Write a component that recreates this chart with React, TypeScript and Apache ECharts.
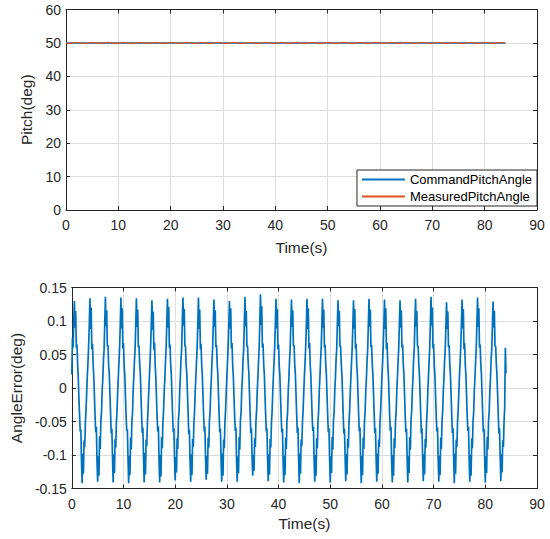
import React, { useEffect, useRef } from "react";
import * as echarts from "echarts";

// ---------- data ----------
const SERIES_NAMES = ["CommandPitchAngle", "MeasuredPitchAngle"];
const COMMAND_TIMES = [0, 84];
const COMMAND_VALUES = [50, 50];

const X_TICKS = [0, 10, 20, 30, 40, 50, 60, 70, 80, 90];
const PITCH_TICKS = [0, 10, 20, 30, 40, 50, 60];
const ERROR_TICKS = [-0.15, -0.1, -0.05, 0, 0.05, 0.1, 0.15];

const ERROR_T0 = 0;
const ERROR_DT = 0.125;
const ERROR_VALUES = [
  // t = 0 .. 1.875
  0.020, 0.075, 0.060, 0.100, 0.130, 0.090, 0.115, 0.060, 0.065, 0.035, 0.015, -0.015, -0.040, -0.065, -0.062, -0.110,
  // cycles, each starting at a trough (t = 2, 5, 8, ...)
  -0.142, -0.098, -0.128, -0.078, -0.088, -0.052, -0.033, -0.008, 0.018, 0.038, 0.062, 0.092, 0.134, 0.088, 0.120, 0.058, 0.066, 0.036, 0.018, -0.012, -0.042, -0.066, -0.058, -0.108,
  -0.140, -0.102, -0.131, -0.072, -0.091, -0.048, -0.036, -0.004, 0.014, 0.042, 0.058, 0.097, 0.136, 0.092, 0.116, 0.062, 0.064, 0.033, 0.021, -0.009, -0.038, -0.068, -0.061, -0.104,
  -0.141, -0.099, -0.127, -0.076, -0.089, -0.051, -0.034, -0.006, 0.016, 0.039, 0.061, 0.094, 0.135, 0.089, 0.119, 0.059, 0.067, 0.034, 0.019, -0.011, -0.041, -0.064, -0.062, -0.106,
  -0.142, -0.101, -0.130, -0.074, -0.092, -0.049, -0.037, -0.003, 0.017, 0.041, 0.059, 0.096, 0.134, 0.091, 0.117, 0.061, 0.063, 0.037, 0.022, -0.008, -0.039, -0.067, -0.059, -0.103,
  -0.141, -0.097, -0.129, -0.077, -0.087, -0.053, -0.032, -0.007, 0.015, 0.037, 0.063, 0.093, 0.131, 0.087, 0.114, 0.057, 0.068, 0.035, 0.017, -0.013, -0.043, -0.065, -0.057, -0.107,
  -0.141, -0.100, -0.132, -0.073, -0.090, -0.050, -0.035, -0.005, 0.014, 0.040, 0.060, 0.095, 0.133, 0.090, 0.121, 0.060, 0.065, 0.036, 0.020, -0.010, -0.040, -0.066, -0.060, -0.105,
  -0.138, -0.103, -0.126, -0.075, -0.091, -0.047, -0.036, -0.004, 0.016, 0.043, 0.057, 0.098, 0.135, 0.093, 0.118, 0.063, 0.062, 0.034, 0.021, -0.009, -0.037, -0.069, -0.062, -0.109,
  -0.140, -0.099, -0.130, -0.076, -0.088, -0.052, -0.034, -0.006, 0.017, 0.039, 0.061, 0.094, 0.135, 0.088, 0.117, 0.058, 0.066, 0.035, 0.019, -0.011, -0.041, -0.065, -0.058, -0.104,
  -0.137, -0.101, -0.128, -0.074, -0.089, -0.049, -0.035, -0.005, 0.015, 0.041, 0.060, 0.096, 0.132, 0.091, 0.116, 0.061, 0.064, 0.036, 0.020, -0.010, -0.039, -0.066, -0.061, -0.106,
  -0.140, -0.098, -0.131, -0.077, -0.090, -0.051, -0.033, -0.007, 0.018, 0.038, 0.062, 0.092, 0.130, 0.089, 0.119, 0.059, 0.067, 0.033, 0.018, -0.012, -0.042, -0.064, -0.059, -0.107,
  -0.140, -0.102, -0.127, -0.073, -0.092, -0.048, -0.037, -0.003, 0.014, 0.042, 0.058, 0.097, 0.136, 0.092, 0.115, 0.062, 0.063, 0.037, 0.022, -0.008, -0.038, -0.067, -0.060, -0.103,
  -0.131, -0.100, -0.124, -0.075, -0.088, -0.050, -0.034, -0.005, 0.016, 0.040, 0.060, 0.099, 0.140, 0.094, 0.122, 0.060, 0.066, 0.035, 0.020, -0.010, -0.040, -0.065, -0.060, -0.105,
  -0.139, -0.099, -0.129, -0.076, -0.089, -0.052, -0.035, -0.006, 0.017, 0.039, 0.061, 0.094, 0.133, 0.089, 0.118, 0.058, 0.065, 0.034, 0.019, -0.011, -0.041, -0.066, -0.061, -0.108,
  -0.141, -0.101, -0.130, -0.074, -0.091, -0.049, -0.036, -0.004, 0.015, 0.041, 0.059, 0.096, 0.132, 0.091, 0.116, 0.062, 0.064, 0.036, 0.021, -0.009, -0.039, -0.067, -0.059, -0.104,
  -0.142, -0.098, -0.128, -0.077, -0.087, -0.051, -0.033, -0.007, 0.018, 0.038, 0.062, 0.093, 0.133, 0.088, 0.119, 0.059, 0.067, 0.035, 0.018, -0.012, -0.042, -0.064, -0.058, -0.107,
  -0.140, -0.100, -0.131, -0.075, -0.090, -0.050, -0.035, -0.005, 0.016, 0.040, 0.060, 0.095, 0.133, 0.090, 0.117, 0.060, 0.065, 0.036, 0.020, -0.010, -0.040, -0.066, -0.060, -0.105,
  -0.141, -0.102, -0.127, -0.073, -0.092, -0.048, -0.036, -0.004, 0.014, 0.042, 0.058, 0.096, 0.131, 0.092, 0.115, 0.062, 0.063, 0.037, 0.021, -0.008, -0.038, -0.068, -0.061, -0.103,
  -0.139, -0.099, -0.129, -0.076, -0.089, -0.052, -0.034, -0.006, 0.017, 0.039, 0.061, 0.093, 0.131, 0.089, 0.118, 0.059, 0.066, 0.034, 0.019, -0.011, -0.041, -0.065, -0.059, -0.106,
  -0.142, -0.101, -0.130, -0.074, -0.091, -0.049, -0.035, -0.005, 0.015, 0.041, 0.059, 0.095, 0.133, 0.091, 0.117, 0.061, 0.064, 0.036, 0.020, -0.009, -0.039, -0.067, -0.060, -0.104,
  -0.140, -0.098, -0.128, -0.077, -0.088, -0.051, -0.033, -0.007, 0.018, 0.038, 0.062, 0.094, 0.132, 0.088, 0.119, 0.058, 0.067, 0.035, 0.018, -0.012, -0.042, -0.064, -0.058, -0.107,
  -0.141, -0.100, -0.131, -0.075, -0.090, -0.050, -0.036, -0.004, 0.016, 0.040, 0.060, 0.095, 0.131, 0.090, 0.116, 0.060, 0.065, 0.036, 0.021, -0.010, -0.040, -0.066, -0.061, -0.105,
  -0.141, -0.102, -0.127, -0.073, -0.092, -0.048, -0.035, -0.005, 0.014, 0.042, 0.058, 0.096, 0.133, 0.092, 0.115, 0.062, 0.063, 0.037, 0.020, -0.008, -0.038, -0.068, -0.060, -0.103,
  -0.139, -0.099, -0.129, -0.076, -0.089, -0.052, -0.034, -0.006, 0.017, 0.039, 0.061, 0.097, 0.136, 0.093, 0.120, 0.059, 0.066, 0.034, 0.019, -0.011, -0.041, -0.065, -0.059, -0.106,
  -0.140, -0.101, -0.130, -0.074, -0.091, -0.049, -0.035, -0.005, 0.015, 0.041, 0.059, 0.092, 0.128, 0.088, 0.114, 0.061, 0.064, 0.036, 0.020, -0.009, -0.039, -0.067, -0.060, -0.104,
  -0.142, -0.098, -0.128, -0.077, -0.088, -0.051, -0.033, -0.007, 0.018, 0.038, 0.062, 0.094, 0.132, 0.089, 0.118, 0.058, 0.067, 0.035, 0.018, -0.012, -0.042, -0.064, -0.058, -0.107,
  -0.140, -0.100, -0.131, -0.075, -0.090, -0.050, -0.036, -0.004, 0.016, 0.040, 0.060, 0.096, 0.135, 0.091, 0.119, 0.060, 0.065, 0.036, 0.021, -0.010, -0.040, -0.066, -0.061, -0.105,
  -0.141, -0.102, -0.127, -0.073, -0.092, -0.048, -0.035, -0.005, 0.014, 0.042, 0.058, 0.093, 0.129, 0.090, 0.115, 0.062, 0.063, 0.037, 0.020, -0.008, -0.038, -0.068, -0.060, -0.103,
  // last trough at t = 83 up to t = 84
  -0.139, -0.099, -0.126, -0.078, -0.088, -0.050, -0.030, 0.060, 0.022,
];

// ---------- styles ----------
const FONT = "'Liberation Sans', Arial, Helvetica, sans-serif";
const TEXT = "#262626";
const AXIS = "#262626";
const GRID = "#dedede";
const BLUE = "#0072BD";
const ORANGE = "#D95319";
const TICK_FONT = 14;
const NAME_FONT = 15.5;

function fmtNum(v: number) {
  return String(Math.round(v * 100) / 100);
}

export default function App() {
  const ref = useRef<HTMLDivElement>(null);

  useEffect(() => {
    if (!ref.current) return;
    const chart = echarts.init(ref.current, null, { renderer: "svg" });

    const errorData = ERROR_VALUES.map((v, i) => [ERROR_T0 + i * ERROR_DT, v]);
    const commandData = COMMAND_TIMES.map((t, i) => [t, COMMAND_VALUES[i]]);
    // measured pitch = command - angle error
    const measuredData = errorData.map(([t, e]) => [t, COMMAND_VALUES[0] - e]);

    const xMin = X_TICKS[0];
    const xMax = X_TICKS[X_TICKS.length - 1];
    const xInt = X_TICKS[1] - X_TICKS[0];

    const mkX = (gridIndex: number, nameGap: number) => [
      {
        type: "value",
        gridIndex,
        min: xMin,
        max: xMax,
        interval: xInt,
        position: "bottom",
        name: "Time(s)",
        nameLocation: "middle",
        nameGap,
        nameTextStyle: { fontSize: NAME_FONT, color: TEXT, fontFamily: FONT },
        axisLine: { show: true, onZero: false, lineStyle: { color: AXIS, width: 1 } },
        axisTick: { show: true, inside: true, length: 4, lineStyle: { color: AXIS } },
        axisLabel: { fontSize: TICK_FONT, color: TEXT, fontFamily: FONT, margin: 8 },
        splitLine: { show: true, lineStyle: { color: GRID, width: 1 } },
      },
      {
        type: "value",
        gridIndex,
        min: xMin,
        max: xMax,
        interval: xInt,
        position: "top",
        axisLine: { show: true, onZero: false, lineStyle: { color: AXIS, width: 1 } },
        axisTick: { show: true, inside: true, length: 4, lineStyle: { color: AXIS } },
        axisLabel: { show: false },
        splitLine: { show: false },
      },
    ];

    const mkY = (
      gridIndex: number,
      ticks: number[],
      name: string,
      nameGap: number
    ) => [
      {
        type: "value",
        gridIndex,
        min: ticks[0],
        max: ticks[ticks.length - 1],
        interval: ticks[1] - ticks[0],
        position: "left",
        name,
        nameLocation: "middle",
        nameGap,
        nameTextStyle: { fontSize: NAME_FONT, color: TEXT, fontFamily: FONT },
        axisLine: { show: true, onZero: false, lineStyle: { color: AXIS, width: 1 } },
        axisTick: { show: true, inside: true, length: 4, lineStyle: { color: AXIS } },
        axisLabel: {
          fontSize: TICK_FONT,
          color: TEXT,
          fontFamily: FONT,
          margin: 5,
          formatter: (v: number) => fmtNum(v),
        },
        splitLine: { show: true, lineStyle: { color: GRID, width: 1 } },
      },
      {
        type: "value",
        gridIndex,
        min: ticks[0],
        max: ticks[ticks.length - 1],
        interval: ticks[1] - ticks[0],
        position: "right",
        axisLine: { show: true, onZero: false, lineStyle: { color: AXIS, width: 1 } },
        axisTick: { show: true, inside: true, length: 4, lineStyle: { color: AXIS } },
        axisLabel: { show: false },
        splitLine: { show: false },
      },
    ];

    const option = {
      animation: false,
      backgroundColor: "#ffffff",
      textStyle: { fontFamily: FONT },
      grid: [
        { left: 66, right: 13, top: 9.5, height: 200.5 },
        { left: 66, right: 13, top: 287.5, height: 201 },
      ],
      xAxis: [...mkX(0, 29), ...mkX(1, 27)],
      yAxis: [
        ...mkY(0, PITCH_TICKS, "Pitch(deg)", 26),
        ...mkY(1, ERROR_TICKS, "AngleError(deg)", 43),
      ],
      legend: {
        data: SERIES_NAMES,
        orient: "vertical",
        right: 13,
        top: 170,
        itemWidth: 43,
        itemHeight: 14,
        itemGap: 4,
        padding: [3, 5, 3, 4],
        borderColor: AXIS,
        borderWidth: 1,
        borderRadius: 0,
        backgroundColor: "#ffffff",
        itemStyle: { opacity: 0, borderWidth: 0 },
        lineStyle: { width: 1.8 },
        textStyle: { fontSize: 13, color: "#000000", fontFamily: FONT },
        z: 10,
      },
      series: [
        {
          name: SERIES_NAMES[0],
          type: "line",
          xAxisIndex: 0,
          yAxisIndex: 0,
          data: commandData,
          symbol: "none",
          lineStyle: { color: BLUE, width: 1.5 },
          itemStyle: { color: BLUE },
        },
        {
          name: SERIES_NAMES[1],
          type: "line",
          xAxisIndex: 0,
          yAxisIndex: 0,
          data: measuredData,
          symbol: "none",
          lineStyle: { color: ORANGE, width: 1.2 },
          itemStyle: { color: ORANGE },
        },
        {
          name: "AngleError",
          type: "line",
          xAxisIndex: 2,
          yAxisIndex: 2,
          data: errorData,
          symbol: "none",
          lineStyle: { color: BLUE, width: 1.7 },
          itemStyle: { color: BLUE },
        },
      ],
    };

    chart.setOption(option as any);
    return () => chart.dispose();
  }, []);

  return (
    <div
      ref={ref}
      style={{ position: "absolute", left: 0, top: 0, width: 550, height: 539, background: "#fff" }}
    />
  );
}
